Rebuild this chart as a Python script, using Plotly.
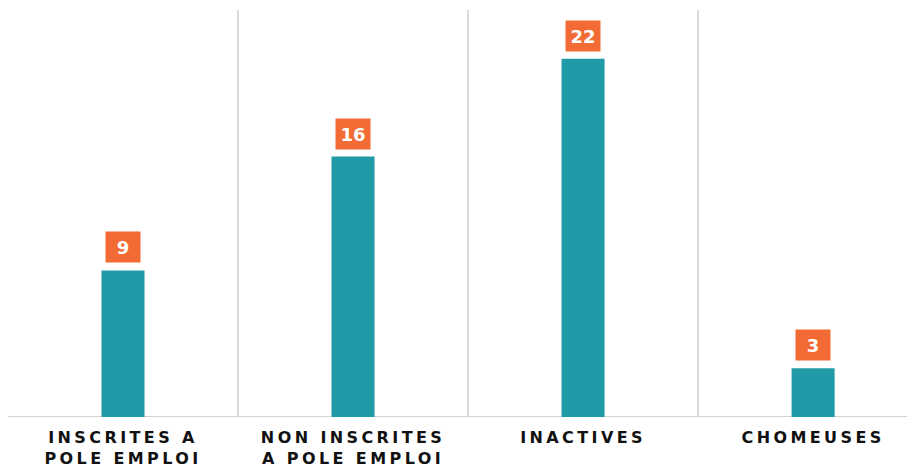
import plotly.graph_objects as go

categories = ["INSCRITES A|POLE EMPLOI", "NON INSCRITES|A POLE EMPLOI", "INACTIVES", "CHOMEUSES"]
values = [9, 16, 22, 3]

TEAL = "#1f9aa6"
ORANGE = "#f26b35"
FONT = "DejaVu Sans"

def spaced(label):
    return "<br>".join(
        f'<span style="letter-spacing:3.4px">{line}</span>' for line in label.split("|")
    )

xs = list(range(len(categories)))
ticktext = [spaced(c) for c in categories]

fig = go.Figure()
fig.add_trace(go.Bar(x=xs, y=values, marker=dict(color=TEAL, line=dict(width=0)),
                     hoverinfo="skip"))

for x, v in zip(xs, values):
    fig.add_annotation(x=x, y=v, text=f"<b>{v}</b>", showarrow=False,
                       yanchor="bottom", yshift=7, bgcolor=ORANGE,
                       width=34, height=30, borderpad=0,
                       font=dict(family=FONT, size=18, color="white"))

fig.update_layout(
    width=907, height=461,
    margin=dict(l=0, r=0, t=2, b=52, autoexpand=False),
    paper_bgcolor="white", plot_bgcolor="white",
    bargap=0.813, showlegend=False,
    xaxis=dict(range=[-0.5, 3.443], tickvals=xs, ticktext=ticktext,
               showgrid=False, zeroline=False, automargin=False,
               showline=False, ticks="", ticklabelstandoff=9,
               tickfont=dict(family=FONT, size=16, color="#111111", weight="bold"),
               minor=dict(tickvals=[-0.5, 0.5, 1.5, 2.5], showgrid=True,
                          gridcolor="#d9d9d9", gridwidth=2)),
    yaxis=dict(range=[0, 25], showgrid=False, zeroline=False, showticklabels=False,
               showline=False, automargin=False),
)
fig.add_shape(type="line", xref="paper", yref="y", x0=0, x1=1, y0=0, y1=0,
              line=dict(color="#d4d4d4", width=2), layer="below")

fig.write_html("out.html")
